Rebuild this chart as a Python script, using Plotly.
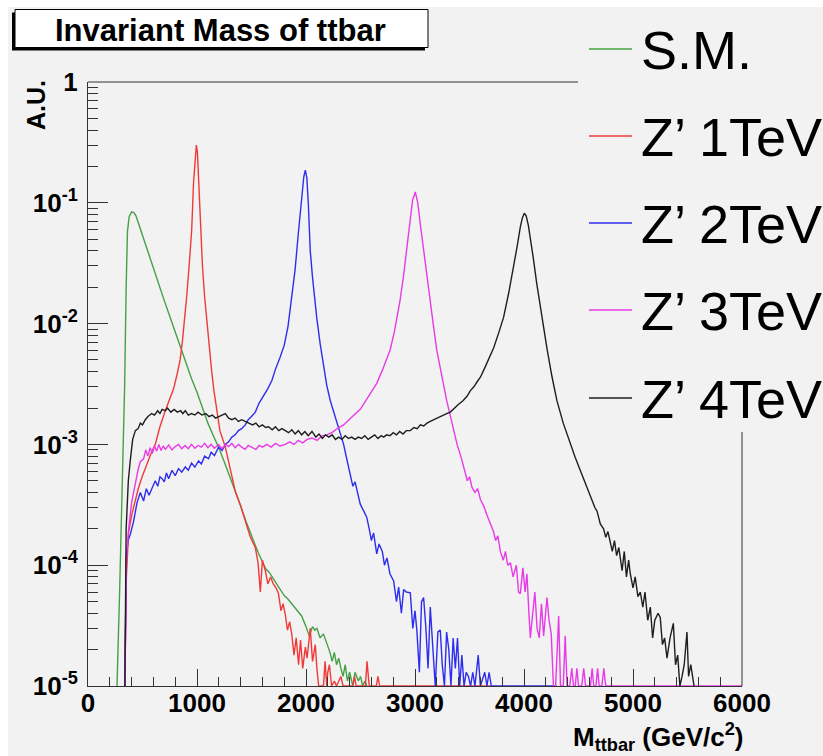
import plotly.graph_objects as go

# ---------------- data ----------------
SERIES_NAMES = ["S.M.", "Z\u2019 1TeV", "Z\u2019 2TeV", "Z\u2019 3TeV", "Z\u2019 4TeV"]

SM_POINTS = [(260, 0), (266, 1e-5), (290, 6e-5), (310, 3e-4), (336, 3e-3), (350, 0.02), (362, 0.058),
             (378, 0.077), (400, 0.084), (420, 0.083), (440, 0.078), (460, 0.069), (490, 0.057),
             (520, 0.047), (560, 0.037), (600, 0.029), (650, 0.021), (700, 0.0155), (750, 0.0115),
             (800, 0.0085), (850, 0.0064), (900, 0.0047), (950, 0.0035), (1000, 0.0027), (1050, 0.0020),
             (1100, 0.0015), (1150, 0.00118), (1200, 0.00094), (1250, 0.00072), (1300, 0.00055),
             (1350, 0.00041), (1400, 0.00031), (1450, 0.00023), (1500, 0.000172), (1530, 0.00015),
             (1560, 0.000128), (1600, 0.000108), (1630, 0.0000935), (1660, 0.000088), (1700, 0.000077),
             (1730, 0.00007), (1760, 0.000063), (1800, 0.000056), (1830, 0.000053), (1860, 0.000049),
             (1900, 0.000044), (1930, 0.000041), (1960, 0.000038), (2000, 0.000031), (2030, 0.000026),
             (2060, 0.000031), (2080, 0.000029), (2100, 0.00003), (2130, 0.000025), (2160, 0.000027),
             (2190, 0.000023), (2220, 0.000019), (2240, 0.000016), (2260, 0.000019), (2280, 0.000015),
             (2300, 0.000017), (2320, 0.000014), (2340, 0.000012), (2360, 0.000015), (2380, 0.000011),
             (2400, 0.000013), (2430, 0.000010), (2450, 0.000013), (2480, 0.000011), (2500, 0.000012),
             (2520, 0), (2540, 0.000011), (2560, 0)]

Z1_POINTS = [(330, 0), (338, 1e-5), (352, 8e-5), (373, 1.9e-4), (403, 2.65e-4), (430, 3.4e-4), (464, 4.4e-4),
             (500, 5.5e-4), (541, 6.9e-4), (580, 8.5e-4), (617, 1.0e-3), (660, 1.4e-3), (709, 1.9e-3),
             (750, 2.4e-3), (786, 2.9e-3), (820, 3.9e-3), (845, 5.0e-3), (865, 7.0e-3), (885, 0.0105),
             (905, 0.0166), (930, 0.032), (951, 0.059), (969, 0.15), (984, 0.25), (994, 0.30), (1004, 0.26),
             (1015, 0.15), (1030, 0.059), (1050, 0.030), (1070, 0.0166), (1090, 0.0102), (1113, 0.0064),
             (1135, 0.0040), (1155, 0.0028), (1180, 0.0019), (1210, 0.0013), (1260, 9.5e-4), (1300, 6.5e-4),
             (1351, 4.1e-4), (1400, 3.1e-4), (1443, 2.3e-4), (1490, 1.7e-4), (1535, 1.4e-4), (1560, 1.05e-4),
             (1581, 6e-5), (1600, 1.1e-4), (1627, 9e-5), (1650, 7e-5), (1675, 8e-5), (1700, 7e-5),
             (1725, 6.5e-5), (1748, 5.8e-5), (1770, 4.2e-5), (1790, 4.8e-5), (1810, 3.9e-5), (1830, 2.9e-5),
             (1850, 3.4e-5), (1869, 2.7e-5), (1890, 1.8e-5), (1910, 2.5e-5), (1932, 1.5e-5), (1950, 2.4e-5),
             (1970, 1.4e-5), (1994, 2.1e-5), (2010, 1.7e-5), (2039, 3.0e-5), (2060, 1.6e-5), (2085, 2.2e-5),
             (2100, 1.4e-5), (2116, 0), (2160, 0), (2175, 1.6e-5), (2190, 0), (2200, 1.3e-5), (2215, 1.5e-5),
             (2235, 0), (2260, 1.1e-5), (2280, 0), (2320, 1.2e-5), (2340, 0), (2430, 0), (2445, 1.2e-5),
             (2460, 0), (2545, 0), (2560, 1.6e-5), (2580, 0), (2645, 0), (2660, 1.2e-5), (2675, 0), (3700, 0)]

Z2_POINTS = [(330, 0), (338, 1e-5), (352, 1.2e-4), (368, 1.6e-4), (388, 1.8e-4), (418, 2.3e-4), (450, 3.3e-4),
             (480, 4.0e-4), (510, 3.4e-4), (535, 4.3e-4), (560, 3.8e-4), (587, 4.3e-4), (617, 5.0e-4),
             (640, 4.5e-4), (660, 5.4e-4), (680, 5.2e-4), (700, 4.9e-4), (720, 5.8e-4), (740, 5.2e-4),
             (771, 6.1e-4), (800, 5.5e-4), (830, 6.3e-4), (860, 5.9e-4), (893, 6.5e-4), (920, 6.1e-4),
             (950, 7.0e-4), (980, 6.5e-4), (1015, 7.3e-4), (1040, 6.9e-4), (1070, 8.0e-4), (1106, 7.6e-4),
             (1130, 8.6e-4), (1160, 8.1e-4), (1198, 9.5e-4), (1230, 8.9e-4), (1260, 1.0e-3), (1290, 1.05e-3),
             (1320, 1.15e-3), (1350, 1.2e-3), (1380, 1.3e-3), (1410, 1.35e-3), (1443, 1.45e-3), (1470, 1.6e-3),
             (1500, 1.7e-3), (1535, 1.85e-3), (1570, 2.2e-3), (1610, 2.5e-3), (1650, 2.9e-3), (1688, 3.4e-3),
             (1720, 4.2e-3), (1760, 5.2e-3), (1800, 6.6e-3), (1835, 9.5e-3), (1870, 0.0166), (1900, 0.028),
             (1932, 0.059), (1958, 0.11), (1980, 0.165), (1994, 0.186), (2008, 0.16), (2022, 0.095),
             (2039, 0.040), (2060, 0.024), (2080, 0.016), (2098, 0.0113), (2130, 0.0068), (2161, 0.0044),
             (2190, 0.0031), (2223, 0.0023), (2250, 0.0019), (2284, 0.0015), (2315, 0.0012), (2345, 1.0e-3),
             (2375, 7.5e-4), (2404, 5.7e-4), (2430, 4.5e-4), (2450, 4.9e-4), (2475, 3.8e-4), (2498, 3.2e-4),
             (2530, 2.8e-4), (2557, 2.5e-4), (2580, 2.0e-4), (2600, 1.6e-4), (2620, 1.85e-4), (2649, 1.24e-4),
             (2670, 1.5e-4), (2700, 1.3e-4), (2720, 1.0e-4), (2743, 1.15e-4), (2770, 8.5e-5), (2804, 7.4e-5),
             (2830, 5.0e-5), (2850, 6.6e-5), (2875, 4.0e-5), (2896, 6.3e-5), (2920, 6.0e-5), (2957, 5.9e-5),
             (2980, 3.0e-5), (3000, 4.2e-5), (3017, 2.9e-5), (3040, 1.3e-5), (3060, 5.0e-5), (3079, 5.4e-5),
             (3100, 3.0e-5), (3120, 1.4e-5), (3140, 4.5e-5), (3160, 2.5e-5), (3186, 0), (3210, 2.8e-5),
             (3232, 2.9e-5), (3250, 1.5e-5), (3270, 0), (3290, 2.8e-5), (3310, 2.0e-5), (3330, 0),
             (3350, 2.5e-5), (3370, 1.4e-5), (3390, 2.5e-5), (3410, 0), (3430, 1.8e-5), (3450, 0),
             (3470, 1.3e-5), (3490, 1.2e-5), (3510, 0), (3530, 1.3e-5), (3550, 0), (3580, 1.8e-5), (3600, 0),
             (3640, 1.3e-5), (3660, 0), (3680, 1.3e-5), (3700, 0), (4300, 0)]

Z3_POINTS = [(330, 0), (338, 1e-5), (352, 1.1e-4), (373, 2.0e-4), (400, 3.3e-4), (431, 4.7e-4), (460, 6.2e-4),
             (480, 7.2e-4), (510, 7.6e-4), (530, 9.0e-4), (550, 8.0e-4), (570, 9.4e-4), (590, 8.4e-4),
             (610, 9.7e-4), (630, 8.8e-4), (650, 1.0e-3), (670, 8.9e-4), (690, 9.7e-4), (710, 9.1e-4),
             (740, 9.9e-4), (770, 9.0e-4), (800, 9.6e-4), (830, 1.0e-3), (860, 9.2e-4), (890, 9.8e-4),
             (920, 9.2e-4), (950, 1.0e-3), (980, 9.3e-4), (1010, 9.8e-4), (1040, 9.5e-4), (1070, 1.02e-3),
             (1100, 9.4e-4), (1130, 1.0e-3), (1160, 9.3e-4), (1198, 1.0e-3), (1230, 9.2e-4), (1260, 1.0e-3),
             (1290, 9.6e-4), (1320, 1.02e-3), (1350, 9.4e-4), (1380, 1.0e-3), (1410, 9.5e-4), (1440, 9.1e-4),
             (1470, 9.8e-4), (1505, 9.4e-4), (1540, 9.1e-4), (1570, 9.8e-4), (1600, 9.5e-4), (1640, 1.0e-3),
             (1680, 9.5e-4), (1720, 1.02e-3), (1760, 9.7e-4), (1810, 1.0e-3), (1850, 1.05e-3), (1890, 1.0e-3),
             (1930, 1.08e-3), (1970, 1.03e-3), (2010, 1.1e-3), (2055, 1.13e-3), (2100, 1.08e-3), (2150, 1.18e-3),
             (2193, 1.2e-3), (2240, 1.26e-3), (2290, 1.36e-3), (2345, 1.45e-3), (2390, 1.6e-3), (2440, 1.75e-3),
             (2498, 1.95e-3), (2550, 2.3e-3), (2600, 2.7e-3), (2649, 3.2e-3), (2700, 4.1e-3), (2740, 5.1e-3),
             (2773, 6.1e-3), (2810, 8.5e-3), (2840, 0.012), (2863, 0.0156), (2895, 0.025), (2924, 0.040),
             (2952, 0.068), (2978, 0.105), (3003, 0.123), (3025, 0.10), (3050, 0.065), (3079, 0.040),
             (3110, 0.025), (3138, 0.0156), (3170, 0.0095), (3200, 0.0060), (3245, 0.0037), (3291, 0.0023),
             (3340, 0.0015), (3386, 1.0e-3), (3420, 8.0e-4), (3446, 6.4e-4), (3480, 5.0e-4), (3500, 5.4e-4),
             (3523, 4.4e-4), (3550, 4.0e-4), (3575, 4.3e-4), (3600, 3.5e-4), (3630, 3.1e-4), (3660, 2.6e-4),
             (3691, 2.2e-4), (3720, 1.9e-4), (3740, 1.6e-4), (3760, 1.75e-4), (3783, 1.3e-4), (3810, 1.1e-4),
             (3830, 1.3e-4), (3850, 1.0e-4), (3875, 1.05e-4), (3900, 8.0e-5), (3930, 1.0e-4), (3950, 6.0e-5),
             (3966, 5.8e-5), (3990, 9.5e-5), (4010, 6.0e-5), (4027, 8.5e-5), (4045, 4.0e-5), (4058, 2.5e-5),
             (4080, 4.0e-5), (4100, 6.0e-5), (4120, 3.0e-5), (4140, 2.5e-5), (4160, 4.8e-5), (4180, 2.6e-5),
             (4211, 5.4e-5), (4230, 3.5e-5), (4250, 2.7e-5), (4270, 0), (4290, 0), (4318, 3.8e-5), (4335, 0),
             (4360, 0), (4378, 2.6e-5), (4395, 0), (4420, 0), (4438, 1.4e-5), (4455, 0), (4470, 0),
             (4485, 1.4e-5), (4500, 0), (4530, 0), (4548, 1.4e-5), (4565, 0), (4610, 0), (4625, 1.4e-5),
             (4640, 0), (4660, 0), (4675, 1.4e-5), (4690, 0), (4715, 0), (4732, 1.4e-5), (4750, 0), (6000, 0)]

Z4_POINTS = [(330, 0), (338, 1e-5), (350, 2.0e-4), (370, 5.0e-4), (388, 7.4e-4), (410, 1.1e-3), (434, 1.3e-3),
             (460, 1.35e-3), (480, 1.5e-3), (500, 1.45e-3), (526, 1.6e-3), (550, 1.7e-3), (584, 1.8e-3),
             (610, 1.75e-3), (640, 1.9e-3), (660, 1.8e-3), (680, 1.95e-3), (709, 1.9e-3), (730, 2.0e-3),
             (760, 1.85e-3), (790, 1.95e-3), (820, 1.85e-3), (850, 1.9e-3), (870, 1.8e-3), (893, 1.9e-3),
             (920, 1.75e-3), (950, 1.8e-3), (980, 1.75e-3), (1010, 1.85e-3), (1046, 1.75e-3), (1080, 1.8e-3),
             (1110, 1.7e-3), (1140, 1.75e-3), (1170, 1.65e-3), (1200, 1.7e-3), (1230, 1.75e-3), (1260, 1.8e-3),
             (1290, 1.65e-3), (1320, 1.6e-3), (1350, 1.65e-3), (1380, 1.55e-3), (1410, 1.6e-3), (1443, 1.55e-3),
             (1480, 1.5e-3), (1510, 1.45e-3), (1540, 1.5e-3), (1570, 1.4e-3), (1600, 1.45e-3), (1630, 1.38e-3),
             (1657, 1.4e-3), (1690, 1.32e-3), (1720, 1.4e-3), (1750, 1.3e-3), (1780, 1.35e-3), (1810, 1.3e-3),
             (1840, 1.25e-3), (1870, 1.32e-3), (1900, 1.22e-3), (1930, 1.3e-3), (1960, 1.2e-3), (1990, 1.28e-3),
             (2020, 1.18e-3), (2055, 1.28e-3), (2090, 1.15e-3), (2120, 1.22e-3), (2150, 1.12e-3), (2180, 1.2e-3),
             (2210, 1.15e-3), (2240, 1.2e-3), (2270, 1.1e-3), (2300, 1.15e-3), (2330, 1.1e-3), (2360, 1.18e-3),
             (2390, 1.12e-3), (2420, 1.15e-3), (2450, 1.1e-3), (2480, 1.15e-3), (2510, 1.12e-3), (2540, 1.18e-3),
             (2570, 1.1e-3), (2600, 1.15e-3), (2630, 1.2e-3), (2660, 1.12e-3), (2690, 1.18e-3), (2712, 1.15e-3),
             (2740, 1.2e-3), (2770, 1.18e-3), (2800, 1.25e-3), (2830, 1.2e-3), (2860, 1.28e-3), (2890, 1.22e-3),
             (2920, 1.3e-3), (2957, 1.3e-3), (2990, 1.38e-3), (3020, 1.35e-3), (3050, 1.45e-3), (3080, 1.42e-3),
             (3110, 1.5e-3), (3140, 1.55e-3), (3170, 1.6e-3), (3200, 1.65e-3), (3230, 1.7e-3), (3260, 1.75e-3),
             (3290, 1.8e-3), (3324, 1.85e-3), (3360, 2.0e-3), (3400, 2.15e-3), (3440, 2.3e-3), (3477, 2.5e-3),
             (3510, 2.8e-3), (3540, 3.0e-3), (3570, 3.3e-3), (3600, 3.6e-3), (3640, 4.3e-3), (3680, 5.2e-3),
             (3722, 6.3e-3), (3770, 8.5e-3), (3813, 0.0113), (3860, 0.018), (3905, 0.029), (3940, 0.045),
             (3966, 0.063), (3985, 0.075), (4003, 0.082), (4020, 0.078), (4040, 0.065), (4058, 0.052),
             (4085, 0.035), (4117, 0.0214), (4160, 0.012), (4211, 0.0062), (4255, 0.0037), (4302, 0.0023),
             (4360, 0.0015), (4424, 1.0e-3), (4470, 7.8e-4), (4516, 6.1e-4), (4560, 4.8e-4), (4608, 3.7e-4),
             (4650, 3.0e-4), (4670, 2.8e-4), (4700, 2.2e-4), (4730, 2.0e-4), (4750, 1.7e-4), (4770, 1.9e-4),
             (4792, 1.5e-4), (4810, 1.3e-4), (4830, 1.6e-4), (4850, 1.2e-4), (4870, 1.4e-4), (4883, 1.15e-4),
             (4900, 9e-5), (4920, 1.3e-4), (4940, 8e-5), (4960, 1.1e-4), (4975, 8.5e-5), (5000, 6.5e-5),
             (5020, 8e-5), (5045, 5.5e-5), (5067, 6e-5), (5090, 4.5e-5), (5110, 6e-5), (5135, 3.5e-5),
             (5159, 4.5e-5), (5180, 2.5e-5), (5200, 3.5e-5), (5230, 4.0e-5), (5250, 3.7e-5), (5270, 2.2e-5),
             (5290, 2.5e-5), (5312, 1.7e-5), (5340, 2.5e-5), (5370, 3.3e-5), (5390, 1.5e-5), (5410, 1.8e-5),
             (5430, 0), (5450, 1.2e-5), (5470, 1.5e-5), (5495, 2.8e-5), (5510, 1.2e-5), (5530, 1.5e-5), (5560, 0)]

X_TICKS = [0, 1000, 2000, 3000, 4000, 5000, 6000]
X_MINOR = [v for v in range(200, 6000, 200) if v % 1000]
Y_TICKS = [1e-5, 1e-4, 1e-3, 1e-2, 1e-1, 1]
Y_TICK_LABELS = ["10<sup>-5</sup>", "10<sup>-4</sup>", "10<sup>-3</sup>", "10<sup>-2</sup>", "10<sup>-1</sup>", "1"]
Y_MINOR = [m * 10.0 ** e for e in range(-5, 0) for m in range(2, 10)]
Y_MIN = 1e-5

# ---------------- style ----------------
COLORS = ["#46a046", "#f03a3a", "#2e2eee", "#e83ae8", "#1e1e1e"]
BG = "#f2f2f2"
AX = "#333333"
FONT = "Liberation Sans"
W, H = 823, 756
L, R, T, B = 88, 742, 82, 686  # plot-area pixel bounds


def px(x):
    return (x - L) / (R - L)


def py(y):
    return (B - y) / (B - T)


fig = go.Figure()
for name, pts, color in zip(SERIES_NAMES, [SM_POINTS, Z1_POINTS, Z2_POINTS, Z3_POINTS, Z4_POINTS], COLORS):
    xs = [p[0] for p in pts]
    ys = [p[1] if p[1] > 0 else Y_MIN for p in pts]
    fig.add_trace(go.Scatter(x=xs, y=ys, mode="lines", name=name,
                             line=dict(color=color, width=1.4), showlegend=False))

shapes = [
    # grey canvas
    dict(type="rect", xref="paper", yref="paper", x0=px(8), x1=px(830), y0=py(760), y1=py(7),
         fillcolor=BG, line=dict(width=0), layer="below"),
    # title box shadow + box
    dict(type="rect", xref="paper", yref="paper", x0=px(12), x1=px(425), y0=py(50.5), y1=py(12.5),
         fillcolor="#000000", line=dict(width=0)),
    dict(type="rect", xref="paper", yref="paper", x0=px(15), x1=px(428), y0=py(47.5), y1=py(9.5),
         fillcolor="#ffffff", line=dict(color="#000000", width=1)),
    # partial frame (top and right), rest hidden behind legend
    dict(type="line", xref="paper", yref="paper", x0=0, x1=px(578), y0=1, y1=1,
         line=dict(color=AX, width=1)),
    dict(type="line", xref="paper", yref="paper", x0=1, x1=1, y0=0, y1=py(432),
         line=dict(color=AX, width=1)),
]

annotations = [
    dict(text="<b>Invariant Mass of ttbar</b>", xref="paper", yref="paper", x=px(220), y=py(30),
         xanchor="center", yanchor="middle", showarrow=False, font=dict(family=FONT, size=31, color="#000")),
    dict(text="<b>A.U.</b>", xref="paper", yref="paper", x=px(36), y=py(78), textangle=-90,
         xanchor="center", yanchor="top", showarrow=False, font=dict(family=FONT, size=25, color="#000")),
    dict(text="<b>M<sub>ttbar</sub> (GeV/c<sup>2</sup>)</b>", xref="paper", yref="paper", x=px(745), y=py(737),
         xanchor="right", yanchor="middle", showarrow=False, font=dict(family=FONT, size=26, color="#000")),
]

ROW_Y = [49, 136, 223, 310, 398]
for name, color, ry in zip(SERIES_NAMES, COLORS, ROW_Y):
    shapes.append(dict(type="line", xref="paper", yref="paper", x0=px(589), x1=px(632), y0=py(ry), y1=py(ry),
                       line=dict(color=color, width=1.5)))
    annotations.append(dict(text=name, xref="paper", yref="paper", x=px(639), y=py(ry + 1),
                            xanchor="left", yanchor="middle", showarrow=False,
                            font=dict(family=FONT, size=54, color="#000")))

fig.update_layout(
    width=W, height=H,
    margin=dict(l=L, r=W - R, t=T, b=H - B, pad=0),
    paper_bgcolor="#ffffff", plot_bgcolor=BG,
    shapes=shapes, annotations=annotations,
    showlegend=False,
    xaxis=dict(range=[0, 6000], showgrid=False, zeroline=False, showline=True, linecolor=AX, linewidth=1,
               ticks="inside", tickvals=X_TICKS, ticktext=[str(v) for v in X_TICKS], ticklen=17, tickwidth=1,
               tickcolor=AX, ticklabelstandoff=-6,
               tickfont=dict(family=FONT, size=26, color="#000", weight="bold"),
               minor=dict(tickvals=X_MINOR, ticks="inside", ticklen=9, tickcolor=AX, showgrid=False)),
    yaxis=dict(type="log", range=[-5, 0], showgrid=False, zeroline=False, showline=True, linecolor=AX,
               linewidth=1, ticks="inside", tickvals=Y_TICKS, ticktext=Y_TICK_LABELS, ticklen=20, tickwidth=1,
               tickcolor=AX, ticklabelstandoff=4,
               tickfont=dict(family=FONT, size=26, color="#000", weight="bold"),
               minor=dict(tickvals=Y_MINOR, ticks="inside", ticklen=10, tickcolor=AX, showgrid=False)),
)

fig.write_html("out.html")
